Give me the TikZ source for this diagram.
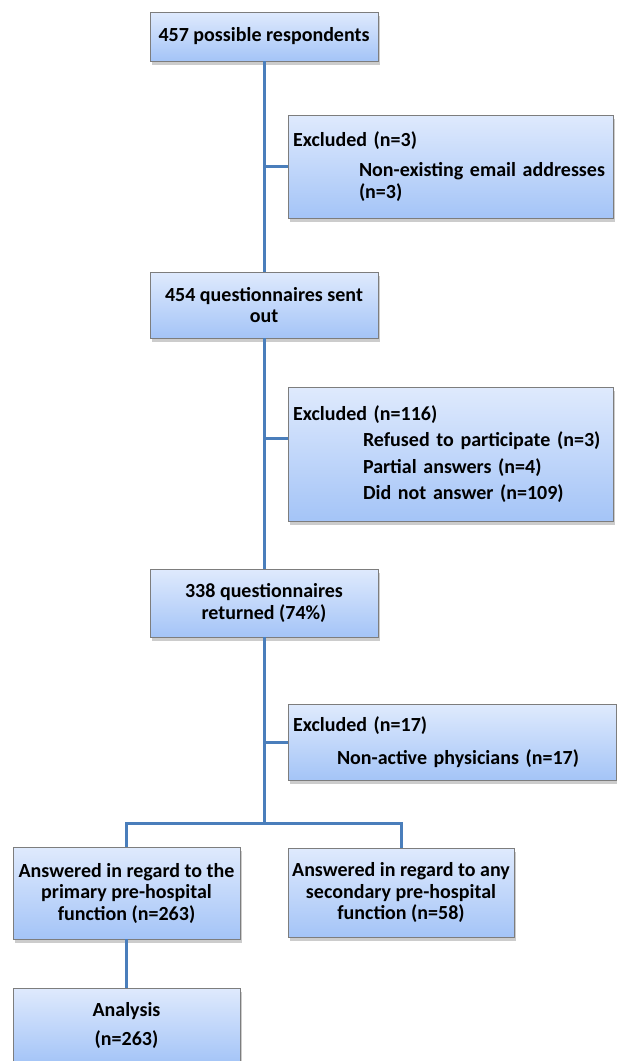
\documentclass[tikz,border=0pt]{standalone}
\usepackage{fontspec}
\setmainfont{Carlito}
\usetikzlibrary{shadows}
\definecolor{linec}{RGB}{74,126,187}
\definecolor{topc}{RGB}{223,234,253}
\definecolor{botc}{RGB}{164,196,247}
\definecolor{edgec}{RGB}{125,125,125}
\tikzset{
  box/.style={draw=edgec, line width=0.8pt, top color=topc, bottom color=botc,
    drop shadow={shadow xshift=1.5pt, shadow yshift=-3.5pt, opacity=0.4},
    font=\bfseries\fontsize{20}{21.5}\selectfont, align=center, inner sep=0pt},
  exbox/.style={box, align=left, inner xsep=5pt},
  conn/.style={draw=linec, line width=3pt}
}
\begin{document}
\begin{tikzpicture}[x=1pt,y=-1pt]
\useasboundingbox[fill=white] (0,0) rectangle (617,1061);
\clip (0,0) rectangle (617,1061);
\node[box, minimum width=228pt, minimum height=49pt] (b1) at (264,36.5) {457 possible respondents};
\node[exbox, minimum width=325pt, minimum height=103pt, text width=315pt] (e1) at (450.5,166.5)
  {Excluded (n=3)\\[9pt]\hspace*{66pt}Non-existing email addresses\\\hspace*{66pt}(n=3)};
\node[box, minimum width=228pt, minimum height=66pt] (b2) at (264,305) {454 questionnaires sent\\out};
\node[exbox, minimum width=325pt, minimum height=134pt, text width=315pt] (e2) at (450.5,454)
  {Excluded (n=116)\\[5pt]\hspace*{70pt}Refused to participate (n=3)\\[5pt]\hspace*{70pt}Partial answers (n=4)\\[5pt]\hspace*{70pt}Did not answer (n=109)};
\node[box, minimum width=228pt, minimum height=68pt] (b3) at (264,603) {338 questionnaires\\returned (74\%)};
\node[exbox, minimum width=328pt, minimum height=76pt, text width=318pt] (e3) at (452,742)
  {Excluded (n=17)\\[11pt]\hspace*{44pt}Non-active physicians (n=17)};
\node[box, minimum width=227pt, minimum height=92pt] (b4) at (126.5,893)
  {Answered in regard to the\\primary pre-hospital\\function (n=263)};
\node[box, minimum width=226pt, minimum height=89pt] (b5) at (401,892.5)
  {Answered in regard to any\\secondary pre-hospital\\function (n=58)};
\node[box, minimum width=227pt, minimum height=75pt] (b6) at (126.5,1025.5)
  {Analysis\\[8pt](n=263)};
\coordinate (split) at (264,823);
\draw[conn] (b1.south) -- (b2.north);
\draw[conn] (e1.west) -- (e1.west -| b1.south);
\draw[conn] (b2.south) -- (b3.north);
\draw[conn] ([yshift=16pt]e2.west) -- ([yshift=16pt]e2.west -| b2.south);
\draw[conn] (b3.south) -- (split);
\draw[conn] (e3.west) -- (e3.west -| b3.south);
\draw[conn] (split) -| (b4.north);
\draw[conn] (split) -| (b5.north);
\draw[conn] (b4.south) -- (b6.north);
\end{tikzpicture}
\end{document}
